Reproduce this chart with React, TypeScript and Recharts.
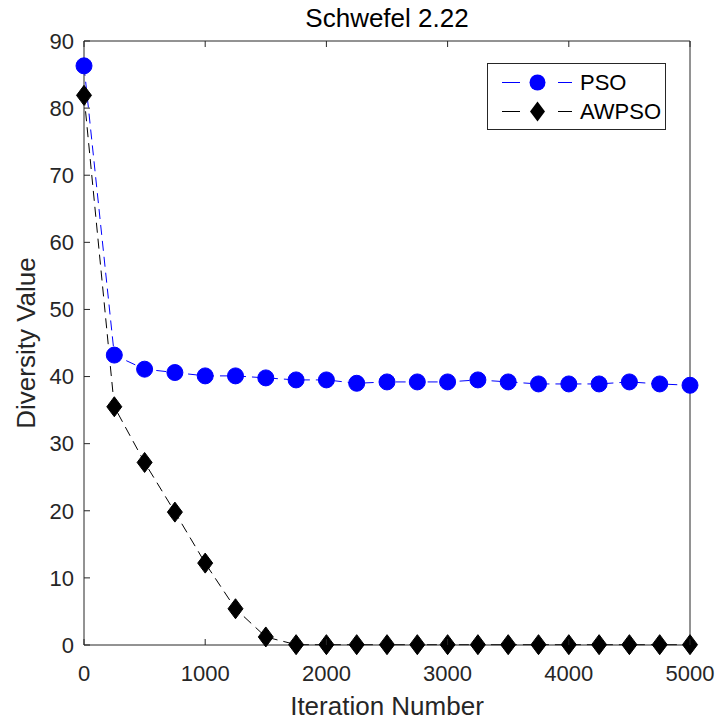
import React from 'react';
import { LineChart, Line, XAxis, YAxis, Legend, Label } from 'recharts';

const iterations = [0, 250, 500, 750, 1000, 1250, 1500, 1750, 2000, 2250, 2500, 2750, 3000, 3250, 3500, 3750, 4000, 4250, 4500, 4750, 5000];
const psoValues = [86.3, 43.2, 41.1, 40.6, 40.1, 40.1, 39.8, 39.5, 39.5, 39.0, 39.2, 39.2, 39.2, 39.5, 39.2, 38.9, 38.9, 38.9, 39.2, 38.9, 38.7];
const awpsoValues = [81.9, 35.5, 27.2, 19.8, 12.2, 5.4, 1.2, 0.05, 0.05, 0.05, 0.05, 0.05, 0.05, 0.05, 0.05, 0.05, 0.05, 0.05, 0.05, 0.05, 0.05];
const xTicks = [0, 1000, 2000, 3000, 4000, 5000];
const yTicks = [0, 10, 20, 30, 40, 50, 60, 70, 80, 90];
const seriesNames = ['PSO', 'AWPSO'];

const data = iterations.map((it, i) => ({ it, pso: psoValues[i], awpso: awpsoValues[i] }));

const FONT = 'Liberation Sans, Arial, Helvetica, sans-serif';
const AX = '#262626';
const TICK_LEN = 6;
const X_MARGIN = 20;
const Y_MARGIN = 10;

const CircleDot = (props: any) => {
  const { cx, cy } = props;
  if (cx == null || cy == null) return null;
  return <circle cx={cx} cy={cy} r={8} fill="#0000ff" stroke="#0000ff" strokeWidth={1} />;
};

const DiamondDot = (props: any) => {
  const { cx, cy } = props;
  if (cx == null || cy == null) return null;
  return (
    <path d={`M${cx},${cy - 10}L${cx + 7.5},${cy}L${cx},${cy + 10}L${cx - 7.5},${cy}Z`} fill="#000" stroke="#000" strokeWidth={1} />
  );
};

const BottomTick = (props: any) => {
  const { x, y, payload } = props;
  const axisY = y - X_MARGIN;
  return (
    <g>
      <line x1={x} y1={axisY} x2={x} y2={axisY - TICK_LEN} stroke={AX} strokeWidth={1} />
      <text x={x} y={y} dy="0.71em" textAnchor="middle" fontSize={22} fontFamily={FONT} fill={AX}>
        {payload.value}
      </text>
    </g>
  );
};

const LeftTick = (props: any) => {
  const { x, y, payload } = props;
  const axisX = x + Y_MARGIN;
  return (
    <g>
      <line x1={axisX} y1={y} x2={axisX + TICK_LEN} y2={y} stroke={AX} strokeWidth={1} />
      <text x={x} y={y} dy="0.355em" textAnchor="end" fontSize={22} fontFamily={FONT} fill={AX}>
        {payload.value}
      </text>
    </g>
  );
};

const TopTick = (props: any) => {
  const { x, y } = props;
  return <line x1={x} y1={y} x2={x} y2={y + TICK_LEN} stroke={AX} strokeWidth={1} />;
};

const RightTick = (props: any) => {
  const { x, y } = props;
  return <line x1={x} y1={y} x2={x - TICK_LEN} y2={y} stroke={AX} strokeWidth={1} />;
};

const LegendBox = () => (
  <svg width={180} height={68} style={{ display: 'block' }}>
    <rect x={0.5} y={0.5} width={178} height={66} fill="#fff" stroke={AX} strokeWidth={1} />
    <line x1={15} y1={19.5} x2={33} y2={19.5} stroke="#0000ff" strokeWidth={1} />
    <circle cx={50.5} cy={19.5} r={8} fill="#0000ff" />
    <line x1={71} y1={19.5} x2={85} y2={19.5} stroke="#0000ff" strokeWidth={1} />
    <text x={93} y={27} fontSize={22} fontFamily={FONT} fill="#000">{seriesNames[0]}</text>
    <line x1={15} y1={48.5} x2={33} y2={48.5} stroke="#000" strokeWidth={1} />
    <path d="M50.5,38.5L58,48.5L50.5,58.5L43,48.5Z" fill="#000" />
    <line x1={71} y1={48.5} x2={85} y2={48.5} stroke="#000" strokeWidth={1} />
    <text x={93} y={56} fontSize={22} fontFamily={FONT} fill="#000">{seriesNames[1]}</text>
  </svg>
);

const YLabel = (props: any) => {
  const vb = props.viewBox || { y: 41, height: 604 };
  const cx = 35;
  const cy = vb.y + vb.height / 2;
  return (
    <text x={cx} y={cy} transform={`rotate(-90, ${cx}, ${cy})`} textAnchor="middle" fontSize={26} fontFamily={FONT} fill={AX}>
      Diversity Value
    </text>
  );
};

export default function App() {
  return (
    <div style={{ position: 'absolute', left: 0, top: 0, background: '#fff' }}>
      <LineChart width={718} height={724} data={data} margin={{ top: 40, right: 27, bottom: 0, left: 0 }}>
        <XAxis
          dataKey="it"
          type="number"
          domain={[0, 5000]}
          ticks={xTicks}
          height={79}
          tickSize={0}
          tickMargin={X_MARGIN}
          tick={<BottomTick />}
          tickLine={false}
          axisLine={{ stroke: AX }}
        >
          <Label value="Iteration Number" position="insideBottom" offset={9} style={{ fontSize: 26, fontFamily: FONT, fill: AX }} />
        </XAxis>
        <XAxis
          xAxisId="top"
          orientation="top"
          dataKey="it"
          type="number"
          domain={[0, 5000]}
          ticks={xTicks}
          height={1}
          tickSize={0}
          tickMargin={0}
          tick={<TopTick />}
          tickLine={false}
          axisLine={{ stroke: AX }}
        >
          <Label value="Schwefel 2.22" position="top" offset={13} style={{ fontSize: 26, fontFamily: FONT, fill: '#000' }} />
        </XAxis>
        <YAxis
          type="number"
          domain={[0, 90]}
          ticks={yTicks}
          width={84}
          tickSize={0}
          tickMargin={Y_MARGIN}
          tick={<LeftTick />}
          tickLine={false}
          axisLine={{ stroke: AX }}
        >
          <Label content={<YLabel />} />
        </YAxis>
        <YAxis
          yAxisId="right"
          orientation="right"
          type="number"
          domain={[0, 90]}
          ticks={yTicks}
          width={1}
          tickSize={0}
          tickMargin={0}
          tick={<RightTick />}
          tickLine={false}
          axisLine={{ stroke: AX }}
        />
        <Legend
          layout="vertical"
          align="center"
          verticalAlign="middle"
          content={<LegendBox />}
          wrapperStyle={{ position: 'absolute', left: 487, top: 63, width: 180, height: 68 }}
        />
        <Line
          type="linear"
          dataKey="pso"
          name={seriesNames[0]}
          stroke="#0000ff"
          strokeWidth={1}
          strokeDasharray="10 6"
          dot={<CircleDot />}
          activeDot={false}
          isAnimationActive={false}
        />
        <Line
          type="linear"
          dataKey="awpso"
          name={seriesNames[1]}
          stroke="#000"
          strokeWidth={1}
          strokeDasharray="10 6"
          dot={<DiamondDot />}
          activeDot={false}
          isAnimationActive={false}
        />
      </LineChart>
    </div>
  );
}
